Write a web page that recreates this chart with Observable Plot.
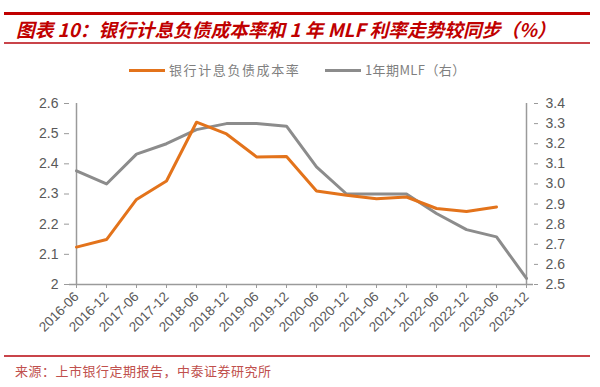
<!DOCTYPE html>
<html>
<head>
<meta charset="utf-8">
<script src="https://cdn.jsdelivr.net/npm/d3@7"></script>
<script src="https://cdn.jsdelivr.net/npm/@observablehq/plot@0.6"></script>
<style>
  html, body { margin: 0; padding: 0; background: #fff; }
  #wrap { position: relative; width: 600px; height: 387px; overflow: hidden; font-family: "Noto Sans CJK SC", "Liberation Sans", sans-serif; }
  .rule { position: absolute; left: 4px; width: 586px; }
  #title { position: absolute; left: 16px; top: 16px; font-size: 18.7px; font-weight: bold; font-style: italic; color: #c00000; white-space: nowrap; line-height: 26px; }
  .leg { position: absolute; top: 62px; font-size: 13px; color: #7f7f7f; white-space: nowrap; line-height: 16px; display: flex; align-items: center; }
  .leg span.sw { display: inline-block; width: 36px; height: 3px; margin-right: 4px; }
  #l1 { letter-spacing: 1.6px; }
  #l2 { letter-spacing: 0.4px; }
  #src { position: absolute; left: 15px; top: 362px; font-size: 13px; color: #c0504d; letter-spacing: 0.5px; white-space: nowrap; line-height: 18px; }
  #chart { position: absolute; left: 0; top: 90px; }
</style>
</head>
<body>
<div id="wrap">
  <div class="rule" style="top:12px;height:3px;background:#c00000"></div>
  <div id="title">图表 10：银行计息负债成本率和 1 年 MLF 利率走势较同步（%）</div>
  <div class="rule" style="top:42px;height:2px;background:#c9444a"></div>
  <div class="leg" style="left:129px"><span class="sw" style="background:#e3731b"></span><span id="l1">银行计息负债成本率</span></div>
  <div class="leg" style="left:325px"><span class="sw" style="background:#8c8c8c"></span><span id="l2">1年期MLF（右）</span></div>
  <div id="chart"></div>
  <div class="rule" style="top:355px;height:2px;background:#c9444a"></div>
  <div id="src">来源：上市银行定期报告，中泰证券研究所</div>
</div>
<script>
const categories = ["2016-06","2016-12","2017-06","2017-12","2018-06","2018-12","2019-06","2019-12","2020-06","2020-12","2021-06","2021-12","2022-06","2022-12","2023-06","2023-12"];
const costRate = [2.124, 2.149, 2.282, 2.343, 2.538, 2.499, 2.423, 2.424, 2.31, 2.296, 2.284, 2.29, 2.252, 2.242, 2.257, null];
const mlfRate = [3.065, 3.0, 3.148, 3.20, 3.27, 3.30, 3.30, 3.287, 3.085, 2.95, 2.95, 2.95, 2.853, 2.773, 2.737, 2.53];
const leftTicks = [2, 2.1, 2.2, 2.3, 2.4, 2.5, 2.6];
const rightTicks = [2.5, 2.6, 2.7, 2.8, 2.9, 3.0, 3.1, 3.2, 3.3, 3.4];

const leftDomain = [2, 2.6];
const rightDomain = [2.5, 3.4];
const toLeft = v => leftDomain[0] + (v - rightDomain[0]) * (leftDomain[1] - leftDomain[0]) / (rightDomain[1] - rightDomain[0]);
const fromLeft = v => rightDomain[0] + (v - leftDomain[0]) * (rightDomain[1] - rightDomain[0]) / (leftDomain[1] - leftDomain[0]);

const costData = categories.map((c, i) => ({cat: c, v: costRate[i]})).filter(d => d.v != null);
const mlfData = categories.map((c, i) => ({cat: c, v: toLeft(mlfRate[i])}));

const axisColor = "#9a9a9a";
const labelColor = "#595959";

const chart = Plot.plot({
  width: 600,
  height: 260,
  marginTop: 13,
  marginBottom: 66,
  marginLeft: 69,
  marginRight: 67,
  style: {fontFamily: "Liberation Sans, Arial, sans-serif", background: "transparent"},
  x: {type: "point", domain: categories, padding: 0},
  y: {domain: leftDomain},
  marks: [
    Plot.ruleY([leftDomain[0]], {stroke: axisColor, strokeWidth: 1.5}),
    Plot.ruleX([categories[0]], {stroke: axisColor, strokeWidth: 1.5}),
    Plot.ruleX([categories[categories.length - 1]], {stroke: axisColor, strokeWidth: 1.5}),
    Plot.axisY(leftTicks, {anchor: "left", tickSize: 5, tickPadding: 6, stroke: axisColor, fill: labelColor, fontSize: 14,
      tickFormat: d => d === 2 ? "2" : d.toFixed(1), label: null}),
    Plot.axisY(rightTicks.map(toLeft), {anchor: "right", tickSize: 4, tickPadding: 8, stroke: axisColor, fill: labelColor, fontSize: 14,
      tickFormat: d => { const r = Math.round(fromLeft(d) * 10) / 10; return r.toFixed(1); }, label: null}),
    Plot.axisX({anchor: "bottom", tickSize: 4, tickPadding: 6, tickRotate: -45, stroke: axisColor, fill: labelColor, fontSize: 13.5, label: null}),
    Plot.line(mlfData, {x: "cat", y: "v", stroke: "#8c8c8c", strokeWidth: 3}),
    Plot.line(costData, {x: "cat", y: "v", stroke: "#e3731b", strokeWidth: 3})
  ]
});
document.getElementById("chart").appendChild(chart);
</script>
</body>
</html>
